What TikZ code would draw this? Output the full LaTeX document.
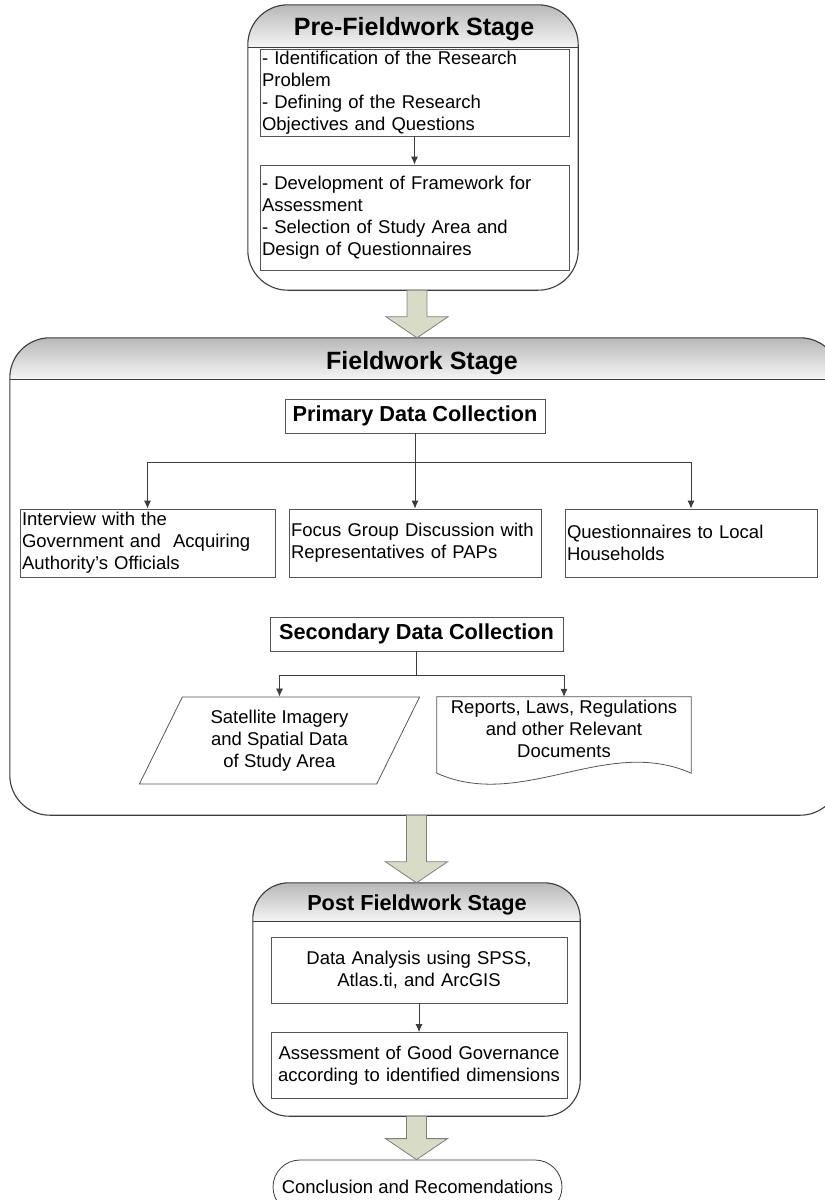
\documentclass[tikz,border=0pt]{standalone}
\usepackage{fontspec}
\setmainfont{Liberation Sans}
\usetikzlibrary{shapes.geometric,arrows.meta,calc}

\definecolor{linegray}{HTML}{3C3C3C}
\definecolor{boxgray}{HTML}{555555}
\definecolor{hdtop}{HTML}{B8B8B8}
\definecolor{hdbot}{HTML}{F6F6F6}
\definecolor{arrowfill}{HTML}{D8DBC5}
\definecolor{arrowline}{HTML}{7F7F7F}

% broad stage-to-stage arrow
\newcommand{\fatarrow}[2]{%
  \draw[fatarr] let \p1=(#1), \p2=(#2) in
    (\x1-10pt,\y1) -- (\x1+10pt,\y1) -- (\x1+10pt,\y2+21pt) -- (\x1+31pt,\y2+21pt)
    -- (\x1,\y2) -- (\x1-31pt,\y2+21pt) -- (\x1-10pt,\y2+21pt) -- cycle;}

% stage frame: name, header height, corner radius
\newcommand{\stageframe}[3]{%
  \begin{scope}
    \clip[rounded corners=#3] (#1.north west) rectangle (#1.south east);
    \shade[top color=hdtop, bottom color=hdbot] (#1.north west) rectangle ([yshift=-#2]#1.north east);
  \end{scope}
  \draw[stageline] ([yshift=-#2]#1.north west) -- ([yshift=-#2]#1.north east);
  \draw[stageline, rounded corners=#3] (#1.north west) rectangle (#1.south east);}

\begin{document}
\begin{tikzpicture}[x=1pt, y=-1pt,
  every node/.style={font=\fontsize{18.5}{22}\selectfont},
  stage/.style={inner sep=0pt},
  stageline/.style={draw=linegray, line width=1.1pt},
  stitle/.style={font=\fontsize{25}{30}\selectfont\bfseries},
  ltitle/.style={font=\fontsize{21.7}{26}\selectfont\bfseries},
  txtbox/.style={draw=boxgray, line width=0.8pt, inner xsep=2pt, inner ysep=0pt, align=left},
  ctrbox/.style={draw=boxgray, line width=0.8pt, inner xsep=2pt, inner ysep=0pt, align=center},
  headbox/.style={ltitle, draw=boxgray, line width=0.8pt, inner sep=0pt, minimum height=34pt},
  conn/.style={draw=linegray, line width=0.8pt, -{Latex[length=8pt,width=7pt]}},
  link/.style={draw=linegray, line width=0.8pt},
  fatarr/.style={draw=arrowline, fill=arrowfill, line width=0.8pt},
]
\path[use as bounding box, clip] (0,0) rectangle (825,1200);

% stages
\node[stage, minimum width=330pt, minimum height=285pt] (pre) at (413,147.5) {};
\node[stage, minimum width=830pt, minimum height=477pt] (field) at (425,576.5) {};
\node[stage, minimum width=327pt, minimum height=233pt] (post) at (416.5,999.5) {};
\stageframe{pre}{43pt}{40pt}
\stageframe{field}{42pt}{40pt}
\stageframe{post}{39pt}{36pt}

\node[stitle] (pretitle) at (414,29) {Pre-Fieldwork Stage};
\node[stitle] (fieldtitle) at (422,363) {Fieldwork Stage};
\node[ltitle] (posttitle) at (417,905) {Post Fieldwork Stage};

% pre-fieldwork
\node[txtbox, text width=305pt, minimum height=87pt] (problem) at (414.5,92.5)
  {- Identification of the Research\\Problem\\- Defining of the Research\\Objectives and Questions};
\node[txtbox, text width=305pt, minimum height=105pt] (framework) at (414.5,217.5)
  {- Development of Framework for\\Assessment\\- Selection of Study Area and\\Design of Questionnaires};
\draw[conn] (problem) -- (framework);

% fieldwork
\node[headbox, minimum width=260pt] (primary) at (415,416) {Primary Data Collection};
\node[txtbox, text width=251pt, minimum height=68pt] (interview) at (147.5,543)
  {Interview with the\\Government and\ \ Acquiring\\Authority's Officials};
\node[txtbox, text width=248pt, minimum height=68pt] (focus) at (415,543)
  {Focus Group Discussion with\\Representatives of PAPs};
\node[txtbox, text width=248pt, minimum height=68pt] (quest) at (691,543)
  {Questionnaires to Local\\Households};
\coordinate (pjoin) at (415,462);
\draw[link] (primary) -- (pjoin);
\draw[conn] (pjoin) -| (interview);
\draw[conn] (pjoin) -- (focus);
\draw[conn] (pjoin) -| (quest);

\node[headbox, minimum width=293pt] (secondary) at (416.5,634) {Secondary Data Collection};
\node[trapezium, trapezium left angle=63.6, trapezium right angle=116.4, trapezium stretches=true,
  draw=boxgray, line width=0.8pt, minimum width=281pt, minimum height=87pt, inner sep=0pt,
  align=center] (satellite) at (279.5,740.5) {Satellite Imagery\\and Spatial Data\\of Study Area};
\node[align=center, minimum width=254pt, minimum height=64pt, inner sep=0pt] (reports) at (564,729)
  {Reports, Laws, Regulations\\and other Relevant\\Documents};
\draw[draw=boxgray, line width=0.8pt] (reports.north west) -- (reports.north east)
  -- ([yshift=-12pt]reports.south east)
  .. controls ([xshift=-85pt,yshift=26pt]reports.south east) and ([xshift=85pt,yshift=-50pt]reports.south west)
  .. ([yshift=-12pt]reports.south west) -- cycle;
\coordinate (sjoin) at (416.5,675);
\draw[link] (secondary) -- (sjoin);
\draw[conn] (sjoin) -| (satellite);
\draw[conn] (sjoin) -| (reports);

% post fieldwork
\node[ctrbox, text width=292pt, minimum height=66pt] (analysis) at (419,970)
  {Data Analysis using SPSS,\\Atlas.ti, and ArcGIS};
\node[ctrbox, text width=292pt, minimum height=66pt] (assess) at (419,1065.5)
  {Assessment of Good Governance\\according to identified dimensions};
\draw[conn] (analysis) -- (assess);

\node[draw=linegray, line width=0.8pt, rounded corners=27pt, minimum width=289pt, minimum height=54pt,
  inner sep=0pt] (concl) at (417.5,1187) {Conclusion and Recomendations};

% stage arrows
\fatarrow{[xshift=4pt]pre.south}{pre.south |- field.north}
\fatarrow{post.north |- field.south}{post.north}
\fatarrow{post.south}{concl.north}
\end{tikzpicture}
\end{document}
